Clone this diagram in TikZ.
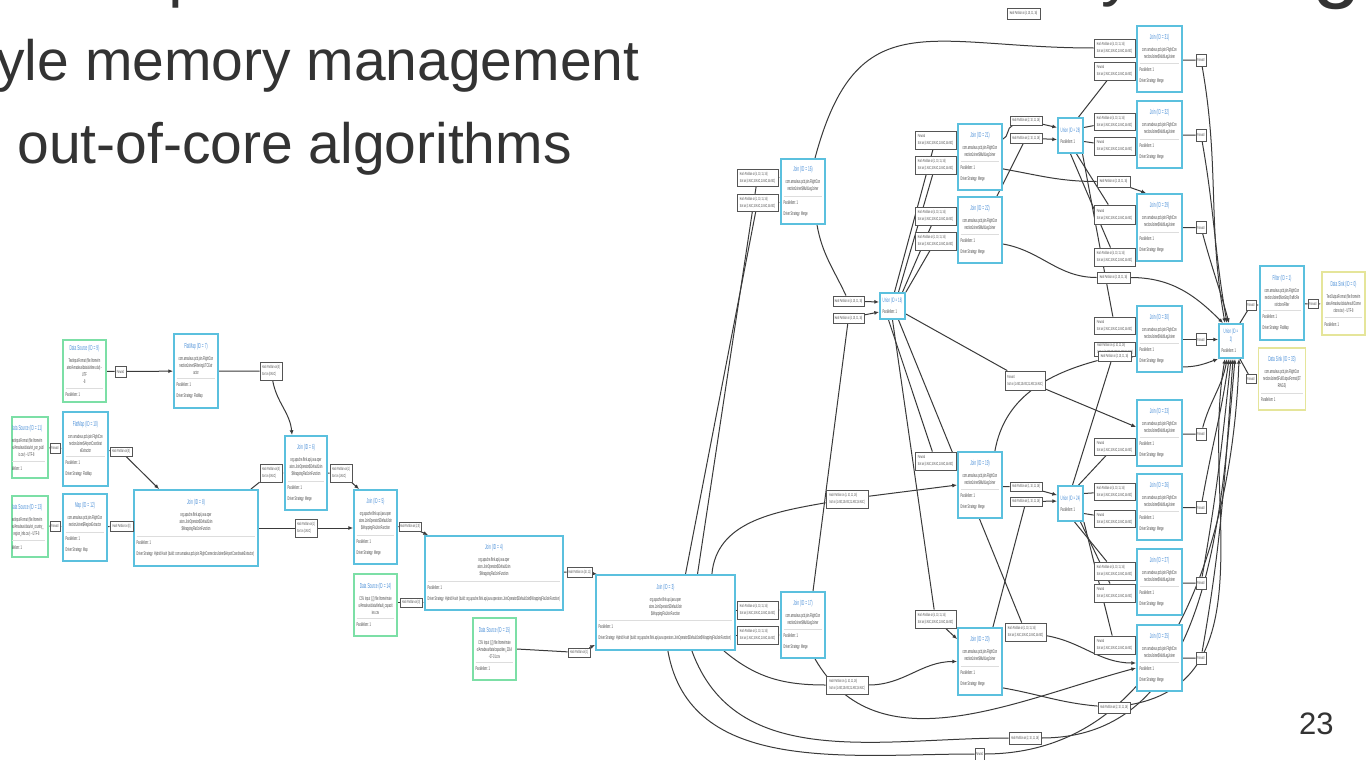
\documentclass[tikz,border=0pt]{standalone}
\usepackage{fontspec}
\setmainfont{Liberation Sans}
\newfontfamily\planfont[FakeStretch=0.44]{Liberation Sans}
\usetikzlibrary{arrows.meta,backgrounds}
\definecolor{slideink}{HTML}{333333}
\definecolor{opblue}{HTML}{5BC0DE}
\definecolor{srcgreen}{HTML}{7CDFA6}
\definecolor{sinkyellow}{HTML}{E5E59A}
\definecolor{titleblue}{HTML}{4A8FD8}
\definecolor{bodyink}{HTML}{444444}
\definecolor{sepgray}{HTML}{DDDDDD}
\definecolor{lblgray}{HTML}{555555}
\definecolor{edgeink}{HTML}{3A3A3A}
\setlength{\parindent}{0pt}
\newcommand{\titlefnt}{\planfont\fontsize{3.6}{4.2}\selectfont\spaceskip=0.5pt\xspaceskip=0.5pt}
\newcommand{\untitlefnt}{\planfont\fontsize{3.2}{3.8}\selectfont\spaceskip=0.45pt\xspaceskip=0.45pt}
\newcommand{\bodyfnt}{\planfont\fontsize{2.7}{3.5}\selectfont\spaceskip=0.4pt\xspaceskip=0.4pt}
\newcommand{\lblfnt}{\planfont\fontsize{2.2}{3.6}\selectfont\spaceskip=0.3pt\xspaceskip=0.3pt}
% box contents: title, description, footer
\newcommand{\opc}[3]{%
  {\centering\titlefnt\textcolor{titleblue}{\mbox{#1}}\par}\vspace{2.6pt}%
  {\centering\bodyfnt\color{bodyink}#2\par}\vspace{2pt}%
  {\color{sepgray}\hrule height 0.3pt}\vspace{2pt}%
  {\raggedright\bodyfnt\color{bodyink}\mbox{Parallelism: 1}\par\vspace{2pt}\mbox{Driver Strategy: #3}\par}}
\newcommand{\dsc}[2]{%
  {\centering\titlefnt\textcolor{titleblue}{\mbox{#1}}\par}\vspace{2.6pt}%
  {\centering\bodyfnt\color{bodyink}#2\par}\vspace{2pt}%
  {\color{sepgray}\hrule height 0.3pt}\vspace{2pt}%
  {\raggedright\bodyfnt\color{bodyink}\mbox{Parallelism: 1}\par}}
\newcommand{\unc}[1]{%
  {\centering\untitlefnt\textcolor{titleblue}{#1}\par}\vspace{2pt}%
  {\raggedright\bodyfnt\color{bodyink}\mbox{Parallelism: 1}\par}}
\newcommand{\wrapjoin}{org.apache.flink.api.java.oper\\ators.JoinOperator\$DefaultJoin\\\$WrappingFlatJoinFunction}
\newcommand{\legjoin}{com.amadeus.pcb.join.FlightCon\\nectionJoiner\$MultiLegJoiner}
\newcommand{\hpart}[1]{Hash Partition on [#1]}
\newcommand{\sorton}[1]{Sort on [#1:ASC,10:ASC,11:ASC,16:ASC]}
\begin{document}
\begin{tikzpicture}[x=0.5pt, y=-0.5pt,
  opbox/.style={draw=opblue, fill=white, line width=0.9pt, inner sep=0.7pt},
  srcbox/.style={opbox, draw=srcgreen},
  sinkbox/.style={opbox, draw=sinkyellow},
  osz/.style 2 args={minimum width=#1*0.5pt, minimum height=#2*0.5pt, text width=#1*0.5pt-2.6pt},
  lbl/.style={draw=lblgray, fill=white, line width=0.4pt, inner sep=0.4pt, font=\lblfnt, text=bodyink, align=left},
  lsz/.style 2 args={minimum width=#1*0.5pt, minimum height=#2*0.5pt},
  flow/.style={draw=edgeink, line width=0.5pt},
  flowarr/.style={flow, -{Latex[length=2.4pt,width=2pt]}},
  slidetxt/.style={text=slideink, inner sep=0pt, font=\fontsize{28.5}{34}\selectfont},
  fragtxt/.style={text=slideink, inner sep=0pt, anchor=base west}]
\useasboundingbox (0,0) rectangle (1371,760);

% slide text
\node[slidetxt, anchor=base west] (line1) at (-4,80) {yle memory management};
\node[slidetxt, anchor=base west] (line2) at (17,163) {out-of-core algorithms};
\node[text=slideink, inner sep=0pt, font=\fontsize{15.5}{18}\selectfont, anchor=base east] (pageno) at (1334,734) {23};
\node[fragtxt, font=\fontsize{33}{40}\selectfont] (fragp) at (168,-5) {p};
\node[fragtxt, font=\fontsize{33}{40}\selectfont] (fragy) at (1101,-6) {y};
\node[fragtxt, font=\fontsize{44}{50}\selectfont] (fragg) at (1312,-9) {g};

% sources and first joins
\node[srcbox, osz={43}{62}] (ds9) at (84.5,371) {\dsc{Data Source (ID = 9)}{TextInputFormat~(file:/home/m\\ateo/Amadeus/data/airlines.dat)~-~UTF\\-8}};
\node[opbox, osz={44}{74}] (fm7) at (196,371) {\opc{FlatMap (ID = 7)}{com.amadeus.pcb.join.FlightCon\\nectionJoiner\$FilteringUTCExtr\\actor}{FlatMap}};
\node[srcbox, osz={36}{61}] (ds11) at (30,447.5) {};
\begin{scope}
  \clip ([xshift=0.5pt]ds11.south west) rectangle (ds11.north east);
  \node[inner sep=0.7pt, osz={43}{61}] (ds11txt) at (26.5,447.5) {\dsc{Data Source (ID = 11)}{TextInputFormat~(file:/home/m\\ateo/Amadeus/data/ori\_por\_publ\\ic.csv)~-~UTF-8}};
\end{scope}
\node[opbox, osz={45}{74}] (fm10) at (85.5,449) {\opc{FlatMap (ID = 10)}{com.amadeus.pcb.join.FlightCon\\nectionJoiner\$AirportCoordinat\\eExtractor}{FlatMap}};
\node[srcbox, osz={36}{61}] (ds13) at (30,526.5) {};
\begin{scope}
  \clip ([xshift=0.5pt]ds13.south west) rectangle (ds13.north east);
  \node[inner sep=0.7pt, osz={43}{61}] (ds13txt) at (26.5,526.5) {\dsc{Data Source (ID = 13)}{TextInputFormat~(file:/home/m\\ateo/Amadeus/data/ori\_country\_\\region\_info.csv)~-~UTF-8}};
\end{scope}
\node[opbox, osz={44}{67}] (map12) at (85,527.5) {\opc{Map (ID = 12)}{com.amadeus.pcb.join.FlightCon\\nectionJoiner\$RegionExtractor}{Map}};
\node[opbox, osz={124}{76}] (j8) at (196,528) {\opc{Join (ID = 8)}{\wrapjoin}{Hybrid Hash (build: com.amadeus.pcb.join.FlightConnectionJoiner\$AirportCoordinateExtractor)}};
\node[opbox, osz={42}{74}] (j6) at (306,473) {\opc{Join (ID = 6)}{\wrapjoin}{Merge}};
\node[opbox, osz={43}{74}] (j5) at (375.5,527) {\opc{Join (ID = 5)}{\wrapjoin}{Merge}};
\node[srcbox, osz={43}{62}] (ds14) at (375.5,605) {\dsc{Data Source (ID = 14)}{CSV~Input~([,])~file:/home/mate\\o/Amadeus/data/default\_capacit\\ies.csv}};
\node[opbox, osz={138}{74}] (j4) at (494,573) {\opc{Join (ID = 4)}{\wrapjoin}{Hybrid Hash (build: org.apache.flink.api.java.operators.JoinOperator\$DefaultJoin\$WrappingFlatJoinFunction)}};
\node[srcbox, osz={43}{62}] (ds15) at (494.5,649) {\dsc{Data Source (ID = 15)}{CSV~Input~([,])~file:/home/mate\\o/Amadeus/data/capacities\_2014\\-07-01.csv}};
\node[opbox, osz={139}{75}] (j3) at (665.5,612.5) {\opc{Join (ID = 3)}{\wrapjoin}{Hybrid Hash (build: org.apache.flink.api.java.operators.JoinOperator\$DefaultJoin\$WrappingFlatJoinFunction)}};

% multi-leg joins and unions
\node[opbox, osz={44}{65}] (j16) at (803,191.5) {\opc{Join (ID = 16)}{\legjoin}{Merge}};
\node[opbox, osz={44}{66}] (j17) at (803,625) {\opc{Join (ID = 17)}{\legjoin}{Merge}};
\node[opbox, osz={25}{26}] (u18) at (892.5,306) {\unc{\mbox{Union (ID = 18)}}};
\node[opbox, osz={44}{66}] (j21) at (980,157) {\opc{Join (ID = 21)}{\legjoin}{Merge}};
\node[opbox, osz={44}{66}] (j22) at (980,230) {\opc{Join (ID = 22)}{\legjoin}{Merge}};
\node[opbox, osz={44}{66}] (j19) at (980,485) {\opc{Join (ID = 19)}{\legjoin}{Merge}};
\node[opbox, osz={44}{67}] (j20) at (980,661.5) {\opc{Join (ID = 20)}{\legjoin}{Merge}};
\node[opbox, osz={25}{35}] (u28) at (1070.5,135.5) {\unc{\mbox{Union (ID = 28)}}};
\node[opbox, osz={25}{35}] (u24) at (1070.5,503.5) {\unc{\mbox{Union (ID = 24)}}};
\node[opbox, osz={45}{66}] (j31) at (1159.5,59) {\opc{Join (ID = 31)}{\legjoin}{Merge}};
\node[opbox, osz={45}{67}] (j32) at (1159.5,134.5) {\opc{Join (ID = 32)}{\legjoin}{Merge}};
\node[opbox, osz={45}{67}] (j29) at (1159.5,227.5) {\opc{Join (ID = 29)}{\legjoin}{Merge}};
\node[opbox, osz={45}{66}] (j30) at (1159.5,339) {\opc{Join (ID = 30)}{\legjoin}{Merge}};
\node[opbox, osz={45}{66}] (j23) at (1159.5,433) {\opc{Join (ID = 23)}{\legjoin}{Merge}};
\node[opbox, osz={45}{66}] (j26) at (1159.5,507) {\opc{Join (ID = 26)}{\legjoin}{Merge}};
\node[opbox, osz={45}{66}] (j27) at (1159.5,582) {\opc{Join (ID = 27)}{\legjoin}{Merge}};
\node[opbox, osz={45}{66}] (j25) at (1159.5,658) {\opc{Join (ID = 25)}{\legjoin}{Merge}};
\node[opbox, osz={24}{34}] (u2) at (1231,341) {\unc{Union (ID =\\2)}};
\node[opbox, osz={44}{74}] (filter1) at (1282,303) {\opc{Filter (ID = 1)}{com.amadeus.pcb.join.FlightCon\\nectionJoiner\$NonStopTrafficRe\\strictionsFilter}{FlatMap}};
\node[sinkbox, osz={43}{63}] (sink0) at (1343.5,303.5) {\dsc{Data Sink (ID = 0)}{TextOutputFormat~(file:/home/m\\ateo/Amadeus/data/result/Conne\\ctions.tsv)~-~UTF-8}};
\node[sinkbox, osz={47}{62}] (sink33) at (1282,379) {\dsc{Data Sink (ID = 33)}{com.amadeus.pcb.join.FlightCon\\nectionJoiner\$FullOutputFormat(ST\\RINGS)}};

% ship strategy labels
\node[lbl, lsz={11}{11}] (lf9) at (120.5,371.5) {Forward};
\node[lbl, lsz={10}{10}] (lf11) at (55,448) {Forward};
\node[lbl, lsz={10}{10}] (lf13) at (55,526) {Forward};
\node[lbl, lsz={22}{9}] (lh10) at (121,451.5) {\hpart{0}};
\node[lbl, lsz={23}{10}] (lh12) at (121.5,526) {\hpart{0}};
\node[lbl, lsz={22}{18}] (l76) at (271,371) {\hpart{0}\\Sort on [0:ASC]};
\node[lbl, lsz={22}{18}] (l86) at (271,473) {\hpart{0}\\Sort on [0:ASC]};
\node[lbl, lsz={22}{18}] (l65) at (341,473) {\hpart{1}\\Sort on [1:ASC]};
\node[lbl, lsz={22}{18}] (l85) at (306,528) {\hpart{1}\\Sort on [1:ASC]};
\node[lbl, lsz={22}{9}] (l54) at (410,526.5) {\hpart{2,0}};
\node[lbl, lsz={22}{9}] (l144) at (411,602.5) {\hpart{0}};
\node[lbl, lsz={25}{10}] (l43) at (579.5,572) {\hpart{10, 11}};
\node[lbl, lsz={22}{9}] (l153) at (579,652.5) {\hpart{1}};
\node[lbl, lsz={41}{17}] (l16a) at (757.5,177.5) {\hpart{4, 10, 11, 16}\\\sorton{4}};
\node[lbl, lsz={41}{17}] (l16b) at (757.5,202.5) {\hpart{1, 10, 11, 16}\\\sorton{1}};
\node[lbl, lsz={41}{18}] (l17a) at (757.5,610) {\hpart{4, 10, 11, 16}\\\sorton{4}};
\node[lbl, lsz={41}{18}] (l17b) at (757.5,635) {\hpart{1, 10, 11, 16}\\\sorton{1}};
\node[lbl, lsz={31}{10}] (l18a) at (848.5,301) {\hpart{4, 10, 11, 16}};
\node[lbl, lsz={31}{10}] (l18b) at (848.5,318) {\hpart{4, 10, 11, 16}};
\node[lbl, lsz={41}{18}] (l21a) at (935.5,140) {Forward\\\sorton{4}};
\node[lbl, lsz={41}{18}] (l21b) at (935.5,165) {\hpart{1, 10, 11, 16}\\\sorton{1}};
\node[lbl, lsz={41}{18}] (l22a) at (935.5,216) {\hpart{4, 10, 11, 16}\\\sorton{4}};
\node[lbl, lsz={41}{18}] (l22b) at (935.5,241) {\hpart{1, 10, 11, 16}\\\sorton{1}};
\node[lbl, lsz={32}{9}] (l28a) at (1026,120.5) {\hpart{2, 10, 11, 16}};
\node[lbl, lsz={32}{10}] (l28b) at (1026,138) {\hpart{2, 10, 11, 16}};
\node[lbl, lsz={33}{11}] (ltop) at (1023.5,13.5) {\hpart{4, 10, 11, 16}};
\node[lbl, lsz={41}{18}] (l31a) at (1114.5,48) {\hpart{4, 10, 11, 16}\\\sorton{4}};
\node[lbl, lsz={41}{18}] (l31b) at (1114.5,71) {Forward\\\sorton{2}};
\node[lbl, lsz={41}{17}] (l32a) at (1114.5,121.5) {\hpart{4, 10, 11, 16}\\\sorton{4}};
\node[lbl, lsz={41}{18}] (l32b) at (1114.5,146) {Forward\\\sorton{2}};
\node[lbl, lsz={33}{11}] (l29h) at (1113.5,181.5) {\hpart{2, 10, 11, 16}};
\node[lbl, lsz={41}{19}] (l29a) at (1114.5,214.5) {Forward\\\sorton{2}};
\node[lbl, lsz={41}{18}] (l29b) at (1114.5,257) {\hpart{4, 10, 11, 16}\\\sorton{4}};
\node[lbl, lsz={33}{11}] (l22h) at (1113.5,277.5) {\hpart{2, 10, 11, 16}};
\node[lbl, lsz={41}{17}] (l30a) at (1114.5,325.5) {Forward\\\sorton{2}};
\node[lbl, lsz={41}{14}] (l30b) at (1115,349) {\hpart{4, 10, 11, 16}\\\sorton{4}};
\node[lbl, lsz={33}{10}] (l30c) at (1114.5,356) {\hpart{2, 10, 11, 16}};
\node[lbl, lsz={40}{19}] (lu18f) at (1025,380.5) {Forward\\\sorton{1}};
\node[lbl, lsz={41}{17}] (l23a) at (1114.5,446.5) {Forward\\\sorton{1}};
\node[lbl, lsz={41}{18}] (l19a) at (935.5,461) {Forward\\\sorton{4}};
\node[lbl, lsz={42}{18}] (l19b) at (847,499) {\hpart{1, 10, 11, 16}\\\sorton{1}};
\node[lbl, lsz={32}{9}] (l24a) at (1026,486.5) {\hpart{1, 10, 11, 16}};
\node[lbl, lsz={32}{9}] (l24b) at (1026,501.5) {\hpart{1, 10, 11, 16}};
\node[lbl, lsz={41}{17}] (l26a) at (1114.5,491.5) {\hpart{4, 10, 11, 16}\\\sorton{4}};
\node[lbl, lsz={41}{17}] (l26b) at (1114.5,518.5) {Forward\\\sorton{1}};
\node[lbl, lsz={41}{18}] (l27a) at (1114.5,571) {\hpart{4, 10, 11, 16}\\\sorton{4}};
\node[lbl, lsz={41}{18}] (l27b) at (1114.5,593) {Forward\\\sorton{1}};
\node[lbl, lsz={41}{18}] (l20a) at (935.5,619) {\hpart{4, 10, 11, 16}\\\sorton{4}};
\node[lbl, lsz={42}{18}] (l20b) at (847,685) {\hpart{1, 10, 11, 16}\\\sorton{1}};
\node[lbl, lsz={41}{18}] (l25b) at (1025.5,632) {\hpart{1, 10, 11, 16}\\\sorton{1}};
\node[lbl, lsz={41}{18}] (l25a) at (1114.5,645) {Forward\\\sorton{1}};
\node[lbl, lsz={32}{11}] (l25h) at (1114,707.5) {\hpart{2, 10, 11, 16}};
\node[lbl, lsz={32}{12}] (lbot) at (1025,738) {\hpart{2, 10, 11, 16}};
\node[lbl, lsz={9}{12}] (fbot) at (979.5,754) {Forward};
\node[lbl, lsz={10}{12}] (f31) at (1201,60) {Forward};
\node[lbl, lsz={10}{12}] (f32) at (1201,135) {Forward};
\node[lbl, lsz={10}{12}] (f29) at (1201,227.5) {Forward};
\node[lbl, lsz={10}{12}] (f30) at (1201,339.5) {Forward};
\node[lbl, lsz={10}{12}] (f23) at (1201,434) {Forward};
\node[lbl, lsz={10}{12}] (f26) at (1201,507.5) {Forward};
\node[lbl, lsz={10}{12}] (f27) at (1201,583) {Forward};
\node[lbl, lsz={10}{12}] (f25) at (1201,658) {Forward};
\node[lbl, lsz={10}{10}] (fu2a) at (1251,305) {Forward};
\node[lbl, lsz={10}{9}] (f1) at (1313,304) {Forward};
\node[lbl, lsz={10}{9}] (fu2b) at (1251,379) {Forward};

\begin{scope}[on background layer]
\fill[white] (0,0) rectangle (1371,760);
% left part
\draw[flowarr] (ds9) -- (lf9) -- (fm7);
\draw[flowarr] (ds11) -- (lf11) -- (fm10);
\draw[flowarr] (ds13) -- (lf13) -- (map12);
\draw[flowarr] (fm10) -- (lh10) -- ([xshift=13pt]j8.north west);
\draw[flowarr] (map12) -- (lh12) -- (j8.west |- lh12);
\draw[flowarr] (fm7) to[out=0,in=180] (l76) to[out=-80,in=95] ([xshift=-7pt]j6.north);
\draw[flowarr] ([xshift=-4pt]j8.north east) -- (l86) -- (j6.west |- l86);
\draw[flowarr] (j6.east |- l65) -- (l65) -- ([xshift=3pt]j5.north west);
\draw[flowarr] (j8.east |- l85) -- (l85) -- (j5.west |- l85);
\draw[flowarr] (j5.east |- l54) -- (l54) -- ([xshift=2pt]j4.north west);
\draw[flowarr] (ds14.east |- l144) -- (l144) -- (j4.west |- l144);
\draw[flowarr] (j4.east |- l43) -- (l43) -- ([xshift=1pt]j3.north west);
\draw[flowarr] (ds15.east) -- (l153) -- ([yshift=3pt]j3.south west);
% out of join 3
\draw[flowarr] ([xshift=10pt]j3.north) -- (l16b) -- (j16.west |- l16b);
\draw[flowarr] ([xshift=16pt]j3.north) -- (l16a) -- (j16.west |- l16a);
\draw[flowarr] (j3.east |- l17a) -- (l17a) -- (j17.west |- l17a);
\draw[flowarr] (j3.east |- l17b) -- (l17b) -- (j17.west |- l17b);
\draw[flowarr] ([xshift=-12pt]j3.north east) to[out=85,in=190] (l19b) -- (j19.west);
\draw[flowarr] ([xshift=-6pt]j3.south east) to[out=-40,in=180] (l20b) to[out=0,in=180] (j20.west);
\draw[flowarr] ([xshift=-22pt]j3.south east) to[out=-70,in=180] (lbot) to[out=0,in=-95] ([xshift=2pt]u2.south);
\draw[flowarr] ([xshift=-34pt]j3.south east) to[out=-80,in=180] (fbot) to[out=0,in=-92] ([xshift=4pt]u2.south);
% unions 18, 28, 24
\draw[flowarr] ([xshift=7pt]j16.south) to[out=-80,in=115] (l18a) -- ([yshift=2pt]u18.west);
\draw[flowarr] ([xshift=5pt]j17.north) -- (l18b) -- ([yshift=-3pt]u18.west);
\draw[flowarr] ([xshift=6pt]j17.south) to[out=-60,in=195] ([yshift=-5pt]j25.west);
\draw[flowarr] ([xshift=6pt]j16.north) to[out=75,in=180,looseness=1.4] (l31a) -- (j31.west |- l31a);
\draw[flowarr] ([xshift=1pt]u18.north) -- (l21a) -- (j21.west |- l21a);
\draw[flowarr] ([xshift=3pt]u18.north) -- (l21b) -- (j21.west |- l21b);
\draw[flowarr] ([xshift=5pt]u18.north) -- (l22a) -- (j22.west |- l22a);
\draw[flowarr] (u18.north east) -- (l22b) -- (j22.west |- l22b);
\draw[flowarr] ([yshift=-4pt]u18.east) -- (lu18f) -- ([yshift=3pt]j23.west);
\draw[flowarr] ([xshift=-2pt]u18.south) -- (l19a) -- ([yshift=-10pt]j19.north west);
\draw[flowarr] (u18.south) -- (l20a) -- ([yshift=-6pt]j20.north west);
\draw[flowarr] ([xshift=3pt]u18.south) -- (l25b) to[out=-10,in=180] ([yshift=-2.5pt]j25.west);
\draw[flowarr] ([yshift=-8pt]j21.north east) to[out=20,in=200] (l28a) -- ([yshift=4pt]u28.west);
\draw[flowarr] ([xshift=-3pt]j22.north east) -- (l28b) -- ([yshift=-2pt]u28.west);
\draw[flowarr] ([yshift=11pt]j21.south east) to[out=-10,in=180] (l29h) -- ([xshift=5pt]j29.north west);
\draw[flowarr] ([yshift=-7pt]j22.east) to[out=-10,in=180] (l22h) to[out=0,in=135] ([xshift=-4pt]u2.north);
\draw[flowarr] (j19.east |- l24a) -- (l24a) -- ([yshift=-5pt]u24.north west);
\draw[flowarr] ([xshift=-5pt]j20.north east) -- (l24b) -- ([yshift=-8pt]u24.north west);
\draw[flowarr] ([xshift=-4pt]j19.north east) to[out=80,in=195] (l30c) -- (j30.west |- l30c);
\draw[flowarr] ([yshift=4pt]j20.south east) to[out=-10,in=175] (l25h) to[out=10,in=-100] ([xshift=-3pt]u2.south);
\draw[flowarr] ([xshift=4pt]u28.north) -- (l31b) -- (j31.west |- l31b);
\draw[flowarr] ([yshift=4pt]u28.east) -- (l32a) -- (j32.west |- l32a);
\draw[flowarr] ([yshift=-3pt]u28.east) -- (l32b) -- (j32.west |- l32b);
\draw[flowarr] ([xshift=3pt]u28.south) -- (l29a) -- (j29.west |- l29a);
\draw[flowarr] (u28.south) -- (l29b) -- (j29.west |- l29b);
\draw[flowarr] ([xshift=6pt]u28.south) -- (l30a) -- (j30.west |- l30a);
\draw[flowarr] ([xshift=1pt]u24.north) -- (l30b) -- (j30.west |- l30b);
\draw[flowarr] ([xshift=4pt]u24.north) -- (l23a) -- (j23.west |- l23a);
\draw[flowarr] ([yshift=5pt]u24.east) -- (l26a) -- (j26.west |- l26a);
\draw[flowarr] ([yshift=-5pt]u24.east) -- (l26b) -- (j26.west |- l26b);
\draw[flowarr] ([xshift=2pt]u24.south) -- (l27a) -- (j27.west |- l27a);
\draw[flowarr] ([xshift=5pt]u24.south) -- (l27b) -- (j27.west |- l27b);
\draw[flowarr] (u24.south east) -- (l25a) -- (j25.west |- l25a);
% into union 2
\draw[flowarr] (j31.east |- f31) -- (f31) to[out=-80,in=100] ([xshift=-3pt]u2.north);
\draw[flowarr] (j32.east |- f32) -- (f32) to[out=-80,in=100] ([xshift=-2pt]u2.north);
\draw[flowarr] (j29.east |- f29) -- (f29) to[out=-75,in=105] ([xshift=-1pt]u2.north);
\draw[flowarr] (j30.east |- f30) -- (f30) -- (u2.west |- f30);
\draw[flowarr] ([yshift=3pt]j30.south east) to[out=0,in=-160] (u2.south west);
\draw[flowarr] (j23.east |- f23) -- (f23) to[out=75,in=-100] ([xshift=-2pt]u2.south);
\draw[flowarr] (j26.east |- f26) -- (f26) to[out=80,in=-98] ([xshift=-1pt]u2.south);
\draw[flowarr] (j27.east |- f27) -- (f27) to[out=80,in=-96] (u2.south);
\draw[flowarr] (j25.east |- f25) -- (f25) to[out=80,in=-94] ([xshift=1pt]u2.south);
% sinks
\draw[flowarr] ([xshift=-2pt]u2.north east) -- (fu2a) -- (filter1.west |- fu2a);
\draw[flowarr] (filter1) -- (f1) -- (sink0);
\draw[flowarr] ([xshift=-2pt]u2.south east) -- (fu2b) -- (sink33.west |- fu2b);
\end{scope}
\end{tikzpicture}
\end{document}
